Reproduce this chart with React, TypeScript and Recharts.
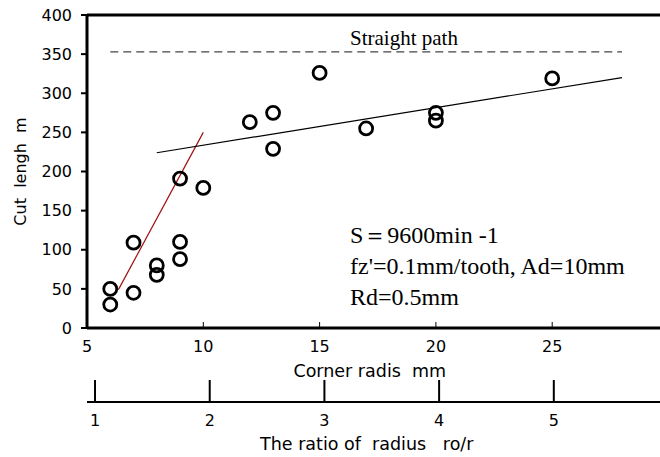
import { ScatterChart, Scatter, XAxis, YAxis, ReferenceLine } from "recharts"

// measured points: corner radius (mm) vs cut length (m)
const radius = [6, 6, 7, 7, 8, 8, 9, 9, 9, 10, 12, 13, 13, 15, 17, 20, 20, 25]
const cutLength = [50, 30, 109, 45, 80, 68, 191, 110, 88, 179, 263, 275, 229, 326, 255, 275, 265, 319]

// fitted lines and the straight-path level
const redFitX = [6.35, 10]
const redFitY = [49, 250]
const blackFitX = [8, 28]
const blackFitY = [224, 320]
const straightX = [6, 28]
const straightY = [353, 353]

const mmTicks = [5, 10, 15, 20, 25]
const ratioTicks = [1, 2, 3, 4, 5]
const yTicks = [0, 50, 100, 150, 200, 250, 300, 350, 400]

const points = radius.map((r, i) => ({ x: r, y: cutLength[i] }))
const toXY = (xs: number[], ys: number[]) => xs.map((x, i) => ({ x, y: ys[i] }))
// keeps the ratio axis alive (nothing is drawn)
const ratioAnchor = ratioTicks.map((r) => ({ x: r, y: 0 }))

const sans = "DejaVu Sans"
const serif = "Liberation Serif"
const nb = "\u00a0"

const UpTick = ({ x, y, payload, len, width }: any) => {
    const axisY = y - 8
    return (
        <g>
            <line x1={x} x2={x} y1={axisY - len} y2={axisY} stroke="#000" strokeWidth={width} />
            <text x={x} y={axisY + 24} textAnchor="middle" fontSize={16} fontFamily={sans} fill="#000">
                {payload.value}
            </text>
        </g>
    )
}

const Ring = ({ cx, cy }: any) => (
    <circle cx={cx} cy={cy} r={6.5} fill="none" stroke="#000" strokeWidth={2.8} />
)

const NoDot = () => <g />

export default function App() {
    return (
        <div style={{ position: "absolute", left: 0, top: 0, width: 660, height: 457, overflow: "hidden", background: "#fff" }}>
            <ScatterChart width={680} height={457} margin={{ top: 15, right: 11.5, left: 0, bottom: 0 }}>
                <XAxis
                    xAxisId="mm"
                    type="number"
                    dataKey="x"
                    domain={[5, 30]}
                    ticks={mmTicks}
                    height={74}
                    tickLine={false}
                    axisLine={{ stroke: "#000", strokeWidth: 3 }}
                    tick={(p: any) => <UpTick {...p} len={6} width={1} />}
                    label={{ value: `Corner radis${nb}${nb}mm`, position: "insideBottom", offset: 25, dx: -8, fontSize: 17.5, fontFamily: sans, fill: "#000" }}
                />
                <XAxis
                    xAxisId="ratio"
                    type="number"
                    dataKey="x"
                    domain={[0.93, 6]}
                    ticks={ratioTicks}
                    allowDataOverflow
                    height={55}
                    tickLine={false}
                    axisLine={{ stroke: "#000", strokeWidth: 2 }}
                    tick={(p: any) => <UpTick {...p} len={22} width={2} />}
                    label={{ value: `The ratio of${nb}${nb}radius${nb}${nb}${nb}ro/r`, position: "insideBottom", offset: 7, dx: -11, fontSize: 17.5, fontFamily: sans, fill: "#000" }}
                />
                <YAxis
                    type="number"
                    dataKey="y"
                    domain={[0, 400]}
                    ticks={yTicks}
                    width={87}
                    tickSize={6}
                    tickMargin={9}
                    tickLine={{ stroke: "#000", strokeWidth: 2 }}
                    axisLine={{ stroke: "#000", strokeWidth: 3 }}
                    tick={{ fontSize: 16, fontFamily: sans, fill: "#000" }}
                    label={{ value: `Cut${nb}${nb}lengh${nb}${nb}m`, angle: -90, position: "insideLeft", offset: 20, fontSize: 16, fontFamily: sans, fill: "#000", style: { textAnchor: "middle" } }}
                />
                <ReferenceLine xAxisId="mm" y={400} stroke="#000" strokeWidth={3} />
                <Scatter xAxisId="ratio" data={ratioAnchor} shape={NoDot} isAnimationActive={false} />
                <Scatter
                    xAxisId="mm"
                    data={toXY(straightX, straightY)}
                    line={{ stroke: "#444", strokeWidth: 1.2, strokeDasharray: "8 5" }}
                    shape={NoDot}
                    isAnimationActive={false}
                />
                <Scatter
                    xAxisId="mm"
                    data={toXY(redFitX, redFitY)}
                    line={{ stroke: "#a01010", strokeWidth: 1.2 }}
                    shape={NoDot}
                    isAnimationActive={false}
                />
                <Scatter
                    xAxisId="mm"
                    data={toXY(blackFitX, blackFitY)}
                    line={{ stroke: "#000", strokeWidth: 1.2 }}
                    shape={NoDot}
                    isAnimationActive={false}
                />
                <Scatter xAxisId="mm" data={points} shape={Ring} isAnimationActive={false} />
            </ScatterChart>
            <div style={{ position: "absolute", left: 350, top: 28, fontFamily: serif, fontSize: 21, lineHeight: "21px", color: "#000" }}>
                Straight path
            </div>
            <div style={{ position: "absolute", left: 350, top: 220, fontFamily: serif, fontSize: 24, lineHeight: "31px", color: "#000", whiteSpace: "nowrap" }}>
                <div>S＝9600min -1</div>
                <div>fz'=0.1mm/tooth, Ad=10mm</div>
                <div>Rd=0.5mm</div>
            </div>
        </div>
    )
}
